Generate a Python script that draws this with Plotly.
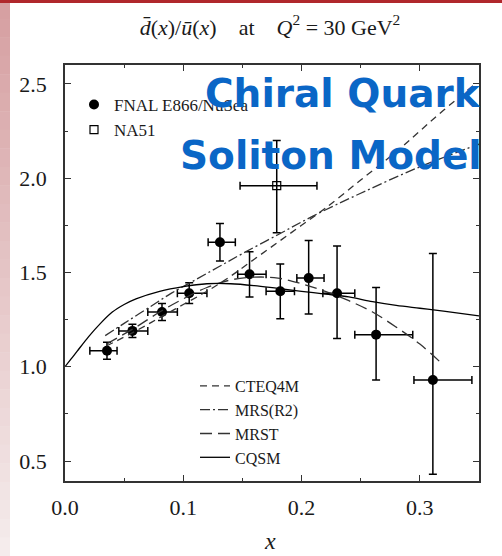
import plotly.graph_objects as go

# ---------------- data ----------------
# FNAL E866/NuSea points
e866_x = [0.0355, 0.057, 0.082, 0.105, 0.131, 0.156, 0.182, 0.206, 0.230, 0.263, 0.311]
e866_y = [1.085, 1.19, 1.29, 1.39, 1.66, 1.49, 1.40, 1.47, 1.39, 1.17, 0.93]
e866_yerr_up = [0.045, 0.035, 0.045, 0.055, 0.10, 0.12, 0.145, 0.20, 0.25, 0.25, 0.67]
e866_yerr_dn = [0.045, 0.035, 0.045, 0.055, 0.10, 0.12, 0.145, 0.19, 0.24, 0.24, 0.50]
e866_xlo = [0.021, 0.0455, 0.070, 0.095, 0.121, 0.146, 0.170, 0.196, 0.218, 0.245, 0.295]
e866_xhi = [0.044, 0.070, 0.095, 0.120, 0.144, 0.170, 0.194, 0.219, 0.245, 0.294, 0.344]

# NA51 point
na51_x = [0.179]
na51_y = [1.96]
na51_yerr_up = [0.24]
na51_yerr_dn = [0.25]
na51_xlo = [0.148]
na51_xhi = [0.213]

# curves
cteq_x = [0.035, 0.06, 0.08, 0.10, 0.12, 0.14, 0.16, 0.18, 0.20, 0.22, 0.25, 0.28, 0.30, 0.32, 0.345]
cteq_y = [1.11, 1.19, 1.26, 1.33, 1.40, 1.48, 1.57, 1.66, 1.75, 1.84, 1.99, 2.14, 2.25, 2.36, 2.49]

mrs_x = [0.034, 0.05, 0.07, 0.09, 0.11, 0.13, 0.15, 0.18, 0.21, 0.25, 0.30, 0.35]
mrs_y = [1.165, 1.23, 1.31, 1.39, 1.46, 1.53, 1.60, 1.70, 1.80, 1.92, 2.06, 2.18]

mrst_x = [0.035, 0.06, 0.08, 0.10, 0.12, 0.14, 0.16, 0.18, 0.20, 0.22, 0.24, 0.26, 0.28, 0.30, 0.318]
mrst_y = [1.12, 1.21, 1.29, 1.36, 1.42, 1.46, 1.475, 1.47, 1.44, 1.40, 1.35, 1.29, 1.21, 1.12, 1.02]

cqsm_x = [0.0, 0.005, 0.01, 0.02, 0.03, 0.04, 0.05, 0.06, 0.08, 0.10, 0.12, 0.14, 0.16,
          0.18, 0.20, 0.22, 0.24, 0.26, 0.28, 0.30, 0.32, 0.35]
cqsm_y = [1.0, 1.04, 1.08, 1.16, 1.23, 1.29, 1.33, 1.36, 1.40, 1.425, 1.44, 1.44, 1.43,
          1.415, 1.40, 1.385, 1.37, 1.345, 1.325, 1.31, 1.295, 1.27]

x_ticks = [0.0, 0.1, 0.2, 0.3]
x_ticklabels = ["0.0", "0.1", "0.2", "0.3"]
y_ticks = [0.5, 1.0, 1.5, 2.0, 2.5]
y_ticklabels = ["0.5", "1.0", "1.5", "2.0", "2.5"]

# ---------------- figure ----------------
W, H = 502, 556
ML, MR, MT, MB = 65, 23, 65, 75
PW, PH = W - ML - MR, H - MT - MB

def px2paper_x(px):
    return (px - ML) / PW

def px2paper_y(py):
    return (H - MB - py) / PH

SERIF = "Liberation Serif, Times New Roman, serif"
INK = "#1a1a1a"

fig = go.Figure()

fig.add_trace(go.Scatter(
    x=e866_x, y=e866_y, mode="markers", name="FNAL E866/NuSea",
    marker=dict(symbol="circle", size=10, color="black"),
    error_y=dict(type="data", symmetric=False, array=e866_yerr_up, arrayminus=e866_yerr_dn,
                 color="black", thickness=1.5, width=4),
    error_x=dict(type="data", symmetric=False,
                 array=[h - x for h, x in zip(e866_xhi, e866_x)],
                 arrayminus=[x - l for x, l in zip(e866_x, e866_xlo)],
                 color="black", thickness=1.5, width=4),
    legend="legend",
))
fig.add_trace(go.Scatter(
    x=na51_x, y=na51_y, mode="markers", name="NA51",
    marker=dict(symbol="square-open", size=8, color="black", line=dict(width=1.2)),
    error_y=dict(type="data", symmetric=False, array=na51_yerr_up, arrayminus=na51_yerr_dn,
                 color="black", thickness=1.5, width=4),
    error_x=dict(type="data", symmetric=False,
                 array=[h - x for h, x in zip(na51_xhi, na51_x)],
                 arrayminus=[x - l for x, l in zip(na51_x, na51_xlo)],
                 color="black", thickness=1.5, width=4),
    legend="legend",
))

LINE_C = "#333333"
fig.add_trace(go.Scatter(x=cteq_x, y=cteq_y, mode="lines", name="CTEQ4M",
                         line=dict(color=LINE_C, width=1.3, dash="7px,5px", shape="spline"),
                         legend="legend2"))
fig.add_trace(go.Scatter(x=mrs_x, y=mrs_y, mode="lines", name="MRS(R2)",
                         line=dict(color=LINE_C, width=1.3, dash="10px,3px,2px,3px", shape="spline"),
                         legend="legend2"))
fig.add_trace(go.Scatter(x=mrst_x, y=mrst_y, mode="lines", name="MRST",
                         line=dict(color=LINE_C, width=1.3, dash="12px,6px", shape="spline"),
                         legend="legend2"))
fig.add_trace(go.Scatter(x=cqsm_x, y=cqsm_y, mode="lines", name="CQSM",
                         line=dict(color="black", width=1.3, shape="spline"),
                         legend="legend2"))

# decorative slide background: red top rule and pink left band
shapes = []
n = 30
for i in range(n):
    t = i / (n - 1)
    r = int(214 + (245 - 214) * t)
    g = int(160 + (236 - 160) * t)
    b = int(162 + (236 - 162) * t)
    y0 = H * i / n
    y1 = H * (i + 1) / n + 0.5
    shapes.append(dict(type="rect", xref="paper", yref="paper", layer="below",
                       x0=px2paper_x(0), x1=px2paper_x(10),
                       y0=px2paper_y(y1), y1=px2paper_y(y0),
                       fillcolor=f"rgb({r},{g},{b})", line=dict(width=0)))
shapes.append(dict(type="rect", xref="paper", yref="paper", layer="below",
                   x0=px2paper_x(0), x1=px2paper_x(W),
                   y0=px2paper_y(3), y1=px2paper_y(0),
                   fillcolor="#b0282c", line=dict(width=0)))

axis_common = dict(
    showline=True, linecolor="#333333", linewidth=1.5, mirror="allticks",
    ticks="inside", ticklen=6, tickwidth=1.2, tickcolor="#333333",
    showgrid=False, zeroline=False,
    tickfont=dict(family=SERIF, size=22, color=INK),
)

fig.update_layout(
    width=W, height=H,
    margin=dict(l=ML, r=MR, t=MT, b=MB),
    paper_bgcolor="white", plot_bgcolor="white",
    showlegend=True,
    title=dict(
        text="<i>d̄</i>(<i>x</i>)/<i>ū</i>(<i>x</i>)&#8195;at&#8195;<i>Q</i><sup>2</sup> = 30 GeV<sup>2</sup>",
        x=270 / W, xanchor="center", y=1 - 27 / H, yanchor="middle",
        font=dict(family=SERIF, size=22, color=INK),
    ),
    xaxis=dict(range=[0, 0.35], tickvals=x_ticks, ticktext=x_ticklabels,
               minor=dict(dtick=0.05, tick0=0, ticks="inside", ticklen=3, tickcolor="#333333"),
               ticklabelstandoff=6, **axis_common),
    yaxis=dict(range=[0.394, 2.60], tickvals=y_ticks, ticktext=y_ticklabels,
               minor=dict(dtick=0.25, tick0=0, ticks="inside", ticklen=3, tickcolor="#333333"),
               ticklabelstandoff=12, **axis_common),
    legend=dict(x=px2paper_x(74), y=px2paper_y(87), xanchor="left", yanchor="top",
                bgcolor="rgba(0,0,0,0)", borderwidth=0, itemwidth=30,
                font=dict(family=SERIF, size=17, color=INK), tracegroupgap=0),
    legend2=dict(x=px2paper_x(195), y=px2paper_y(369), xanchor="left", yanchor="top",
                 bgcolor="rgba(0,0,0,0)", borderwidth=0, itemwidth=30,
                 font=dict(family=SERIF, size=16, color=INK), tracegroupgap=0),
    shapes=shapes,
    annotations=[
        dict(text="<i>x</i>", xref="paper", yref="paper", x=px2paper_x(270), y=px2paper_y(541),
             xanchor="center", yanchor="middle", showarrow=False,
             font=dict(family=SERIF, size=24, color=INK)),
        dict(text="<b>Chiral Quark</b>", xref="paper", yref="paper",
             x=px2paper_x(483), y=px2paper_y(93), xanchor="right", yanchor="middle",
             showarrow=False, font=dict(family="DejaVu Sans", size=39, color="#0a66c6")),
        dict(text="<b>Soliton Model</b>", xref="paper", yref="paper",
             x=px2paper_x(484), y=px2paper_y(155), xanchor="right", yanchor="middle",
             showarrow=False, font=dict(family="DejaVu Sans", size=39, color="#0a66c6")),
    ],
)

fig.write_html("out.html")
